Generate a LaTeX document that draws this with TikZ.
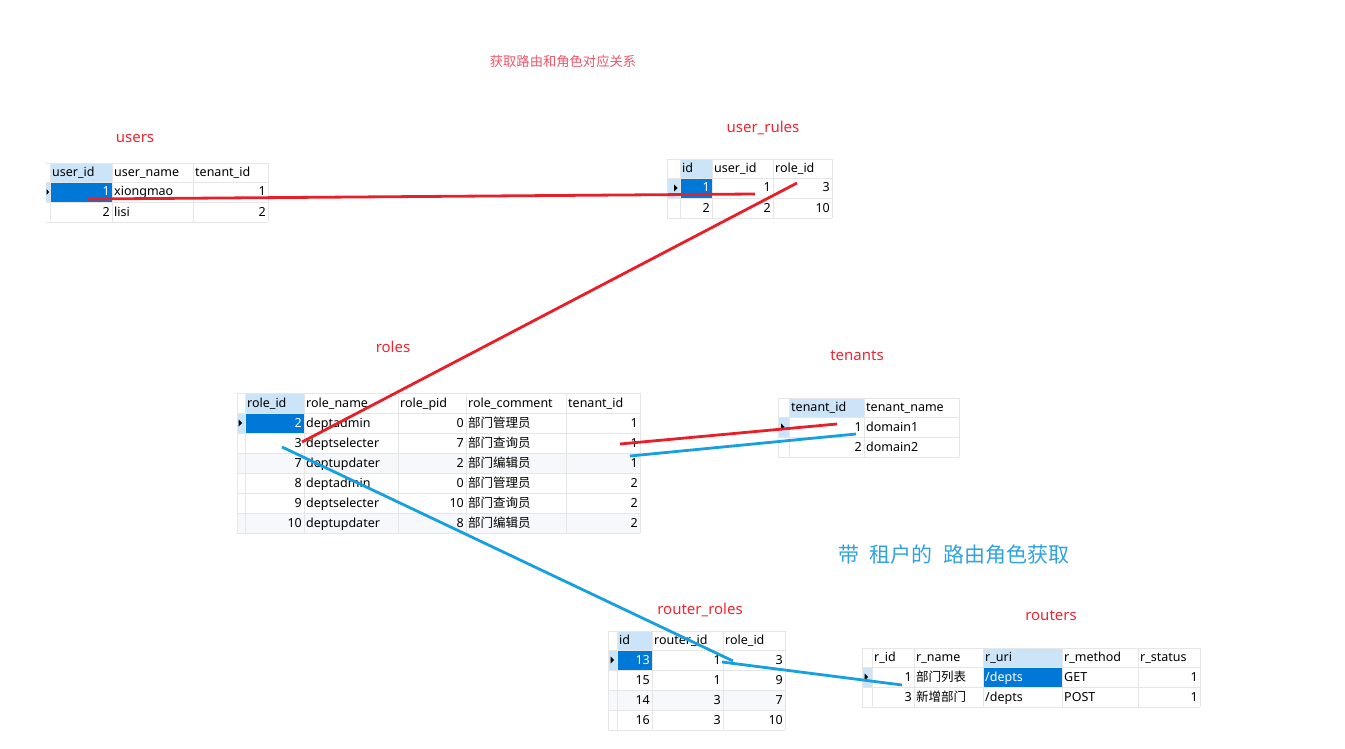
\documentclass[tikz,border=0pt]{standalone}
\usepackage{fontspec}
\setmainfont{Noto Sans}
\newfontfamily\cjk{Noto Sans CJK SC}
\usepackage{xcolor}
\usepackage{tikz}

\definecolor{lblred}{RGB}{240,38,50}
\definecolor{titlepink}{RGB}{242,84,104}
\definecolor{subblue}{RGB}{48,162,226}
\definecolor{linered}{RGB}{232,30,40}
\definecolor{lineblue}{RGB}{22,160,224}
\definecolor{selblue}{RGB}{0,120,215}
\definecolor{hdblue}{RGB}{204,228,247}
\definecolor{gridgray}{RGB}{230,230,230}
\definecolor{rowshade}{RGB}{246,248,251}

\begin{document}
\begin{tikzpicture}[x=1pt, y=-1pt,
    grid/.style={draw=gridgray, line width=0.7pt},
    tl/.style={anchor=west, inner sep=2pt, text height=9.5pt, text depth=1.5pt, font=\fontsize{12.5}{14}\selectfont},
    tr/.style={tl, anchor=east},
    wt/.style={text=white},
    tbltitle/.style={text=lblred, font=\fontsize{15}{17}\selectfont},
    redline/.style={draw=linered, line width=2.8pt},
    blueline/.style={draw=lineblue, line width=2.8pt}]
    \useasboundingbox (0,0) rectangle (1345,749);

    % headings
    \node[text=titlepink, font=\cjk\fontsize{13.3}{16}\selectfont] (title) at (563,61) {获取路由和角色对应关系};
    \node[anchor=west, text=subblue, font=\cjk\fontsize{21}{24}\selectfont, inner sep=0pt] (subtitle) at (838,555) {带\hspace{10pt}租户的\hspace{11pt}路由角色获取};

    % users
    \node[tbltitle] (users) at (135,138) {users};
    \fill[hdblue] (50,163) rectangle (112,182);
    \fill[hdblue] (46,182) rectangle (50,202);
    \fill[selblue] (50,182) rectangle (112,202);
    \fill (46.5,189) -- (49,192) -- (46.5,195) -- cycle;
    \draw[grid] (46,163) -- (268,163) (46,182) -- (268,182) (46,202) -- (268,202) (46,222) -- (268,222);
    \draw[grid] (50,163) -- (50,222) (112,163) -- (112,222) (193,163) -- (193,222) (268,163) -- (268,222);
    \node[tl] (users-h1) at (50,172.5) {user\_id};
    \node[tl] (users-h2) at (112,172.5) {user\_name};
    \node[tl] (users-h3) at (193,172.5) {tenant\_id};
    \node[tr, wt] (users-11) at (112,192) {1};
    \node[tl] (users-12) at (112,192) {xiongmao};
    \node[tr] (users-13) at (268,192) {1};
    \node[tr] (users-21) at (112,212) {2};
    \node[tl] (users-22) at (112,212) {lisi};
    \node[tr] (users-23) at (268,212) {2};

    % user_rules
    \node[tbltitle] (userrules) at (763,128) {user\_rules};
    \fill[hdblue] (680,159) rectangle (712,178);
    \fill[hdblue] (667,178) rectangle (680,198);
    \fill[selblue] (680,178) rectangle (712,198);
    \fill (674,184.5) -- (677.5,188) -- (674,191.5) -- cycle;
    \draw[grid] (667,159) -- (832,159) (667,178) -- (832,178) (667,198) -- (832,198) (667,218) -- (832,218);
    \draw[grid] (667,159) -- (667,218) (680,159) -- (680,218) (712,159) -- (712,218) (773,159) -- (773,218) (832,159) -- (832,218);
    \node[tl] (ur-h1) at (680,168.5) {id};
    \node[tl] (ur-h2) at (712,168.5) {user\_id};
    \node[tl] (ur-h3) at (773,168.5) {role\_id};
    \node[tr, wt] (ur-11) at (712,188) {1};
    \node[tr] (ur-12) at (773,188) {1};
    \node[tr] (ur-13) at (832,188) {3};
    \node[tr] (ur-21) at (712,208) {2};
    \node[tr] (ur-22) at (773,208) {2};
    \node[tr] (ur-23) at (832,208) {10};

    % roles
    \node[tbltitle] (roles) at (393,347) {roles};
    \fill[rowshade] (237,453) rectangle (640,473);
    \fill[rowshade] (237,513) rectangle (640,533);
    \fill[hdblue] (245,393) rectangle (304,413);
    \fill[hdblue] (237,413) rectangle (245,433);
    \fill[selblue] (245,413) rectangle (304,433);
    \fill (238.5,419.5) -- (242,423) -- (238.5,426.5) -- cycle;
    \draw[grid] (237,393) -- (640,393) (237,413) -- (640,413) (237,433) -- (640,433) (237,453) -- (640,453)
        (237,473) -- (640,473) (237,493) -- (640,493) (237,513) -- (640,513) (237,533) -- (640,533);
    \draw[grid] (237,393) -- (237,533) (245,393) -- (245,533) (304,393) -- (304,533) (398,393) -- (398,533)
        (466,393) -- (466,533) (566,393) -- (566,533) (640,393) -- (640,533);
    \node[tl] (roles-h1) at (245,403) {role\_id};
    \node[tl] (roles-h2) at (304,403) {role\_name};
    \node[tl] (roles-h3) at (398,403) {role\_pid};
    \node[tl] (roles-h4) at (466,403) {role\_comment};
    \node[tl] (roles-h5) at (566,403) {tenant\_id};
    \node[tr, wt] (roles-11) at (304,423) {2};
    \node[tl] (roles-12) at (304,423) {deptadmin};
    \node[tr] (roles-13) at (466,423) {0};
    \node[tl] (roles-14) at (466,423) {\cjk 部门管理员};
    \node[tr] (roles-15) at (640,423) {1};
    \node[tr] (roles-21) at (304,443) {3};
    \node[tl] (roles-22) at (304,443) {deptselecter};
    \node[tr] (roles-23) at (466,443) {7};
    \node[tl] (roles-24) at (466,443) {\cjk 部门查询员};
    \node[tr] (roles-25) at (640,443) {1};
    \node[tr] (roles-31) at (304,463) {7};
    \node[tl] (roles-32) at (304,463) {deptupdater};
    \node[tr] (roles-33) at (466,463) {2};
    \node[tl] (roles-34) at (466,463) {\cjk 部门编辑员};
    \node[tr] (roles-35) at (640,463) {1};
    \node[tr] (roles-41) at (304,483) {8};
    \node[tl] (roles-42) at (304,483) {deptadmin};
    \node[tr] (roles-43) at (466,483) {0};
    \node[tl] (roles-44) at (466,483) {\cjk 部门管理员};
    \node[tr] (roles-45) at (640,483) {2};
    \node[tr] (roles-51) at (304,503) {9};
    \node[tl] (roles-52) at (304,503) {deptselecter};
    \node[tr] (roles-53) at (466,503) {10};
    \node[tl] (roles-54) at (466,503) {\cjk 部门查询员};
    \node[tr] (roles-55) at (640,503) {2};
    \node[tr] (roles-61) at (304,523) {10};
    \node[tl] (roles-62) at (304,523) {deptupdater};
    \node[tr] (roles-63) at (466,523) {8};
    \node[tl] (roles-64) at (466,523) {\cjk 部门编辑员};
    \node[tr] (roles-65) at (640,523) {2};

    % tenants
    \node[tbltitle] (tenants) at (857,356) {tenants};
    \fill[hdblue] (789,398) rectangle (864,417);
    \fill[hdblue] (778,417) rectangle (789,437);
    \fill (781,423.5) -- (784.5,427) -- (781,430.5) -- cycle;
    \draw[grid] (778,398) -- (959,398) (778,417) -- (959,417) (778,437) -- (959,437) (778,457) -- (959,457);
    \draw[grid] (778,398) -- (778,457) (789,398) -- (789,457) (864,398) -- (864,457) (959,398) -- (959,457);
    \node[tl] (ten-h1) at (789,407.5) {tenant\_id};
    \node[tl] (ten-h2) at (864,407.5) {tenant\_name};
    \node[tr] (ten-11) at (864,427) {1};
    \node[tl] (ten-12) at (864,427) {domain1};
    \node[tr] (ten-21) at (864,447) {2};
    \node[tl] (ten-22) at (864,447) {domain2};

    % router_roles
    \node[tbltitle] (routerroles) at (700,610) {router\_roles};
    \fill[rowshade] (608,690) rectangle (785,710);
    \fill[hdblue] (617,631) rectangle (652,650);
    \fill[hdblue] (608,650) rectangle (617,670);
    \fill[selblue] (617,650) rectangle (652,670);
    \fill (610.5,656.5) -- (614,660) -- (610.5,663.5) -- cycle;
    \draw[grid] (608,631) -- (785,631) (608,650) -- (785,650) (608,670) -- (785,670) (608,690) -- (785,690)
        (608,710) -- (785,710) (608,730) -- (785,730);
    \draw[grid] (608,631) -- (608,730) (617,631) -- (617,730) (652,631) -- (652,730) (723,631) -- (723,730) (785,631) -- (785,730);
    \node[tl] (rr-h1) at (617,640.5) {id};
    \node[tl] (rr-h2) at (652,640.5) {router\_id};
    \node[tl] (rr-h3) at (723,640.5) {role\_id};
    \node[tr, wt] (rr-11) at (652,660) {13};
    \node[tr] (rr-12) at (723,660) {1};
    \node[tr] (rr-13) at (785,660) {3};
    \node[tr] (rr-21) at (652,680) {15};
    \node[tr] (rr-22) at (723,680) {1};
    \node[tr] (rr-23) at (785,680) {9};
    \node[tr] (rr-31) at (652,700) {14};
    \node[tr] (rr-32) at (723,700) {3};
    \node[tr] (rr-33) at (785,700) {7};
    \node[tr] (rr-41) at (652,720) {16};
    \node[tr] (rr-42) at (723,720) {3};
    \node[tr] (rr-43) at (785,720) {10};

    % routers
    \node[tbltitle] (routers) at (1051,616) {routers};
    \fill[hdblue] (983,648) rectangle (1062,667);
    \fill[hdblue] (862,667) rectangle (872,687);
    \fill[selblue] (983,667) rectangle (1062,687);
    \fill (864.5,673.5) -- (868,677) -- (864.5,680.5) -- cycle;
    \draw[grid] (862,648) -- (1200,648) (862,667) -- (1200,667) (862,687) -- (1200,687) (862,707) -- (1200,707);
    \draw[grid] (862,648) -- (862,707) (872,648) -- (872,707) (914,648) -- (914,707) (983,648) -- (983,707)
        (1062,648) -- (1062,707) (1138,648) -- (1138,707) (1200,648) -- (1200,707);
    \node[tl] (rt-h1) at (872,657.5) {r\_id};
    \node[tl] (rt-h2) at (914,657.5) {r\_name};
    \node[tl] (rt-h3) at (983,657.5) {r\_uri};
    \node[tl] (rt-h4) at (1062,657.5) {r\_method};
    \node[tl] (rt-h5) at (1138,657.5) {r\_status};
    \node[tr] (rt-11) at (914,677) {1};
    \node[tl] (rt-12) at (914,677) {\cjk 部门列表};
    \node[tl, wt] (rt-13) at (983,677) {/depts};
    \node[tl] (rt-14) at (1062,677) {GET};
    \node[tr] (rt-15) at (1200,677) {1};
    \node[tr] (rt-21) at (914,697) {3};
    \node[tl] (rt-22) at (914,697) {\cjk 新增部门};
    \node[tl] (rt-23) at (983,697) {/depts};
    \node[tl] (rt-24) at (1062,697) {POST};
    \node[tr] (rt-25) at (1200,697) {1};

    % line ends
    \coordinate (ua) at (88,199);
    \coordinate (ub) at (755,194);
    \coordinate (rla) at (797,183);
    \coordinate (rlb) at (302,442);
    \coordinate (ta) at (620,444);
    \coordinate (tb) at (837,424);
    \coordinate (tc) at (630,456);
    \coordinate (td) at (856,434);
    \coordinate (rra) at (282,447);
    \coordinate (rrb) at (733,661);
    \coordinate (rtc) at (722,662);
    \coordinate (rtd) at (902,685);

    \draw[redline] (ua) -- (ub); % users-user_rules
    \draw[redline] (rla) -- (rlb); % user_rules-roles
    \draw[redline] (ta) -- (tb); % roles-tenants
    \draw[blueline] (tc) -- (td); % roles-tenants
    \draw[blueline] (rra) -- (rrb); % roles-router_roles
    \draw[blueline] (rtc) -- (rtd); % router_roles-routers
\end{tikzpicture}
\end{document}
